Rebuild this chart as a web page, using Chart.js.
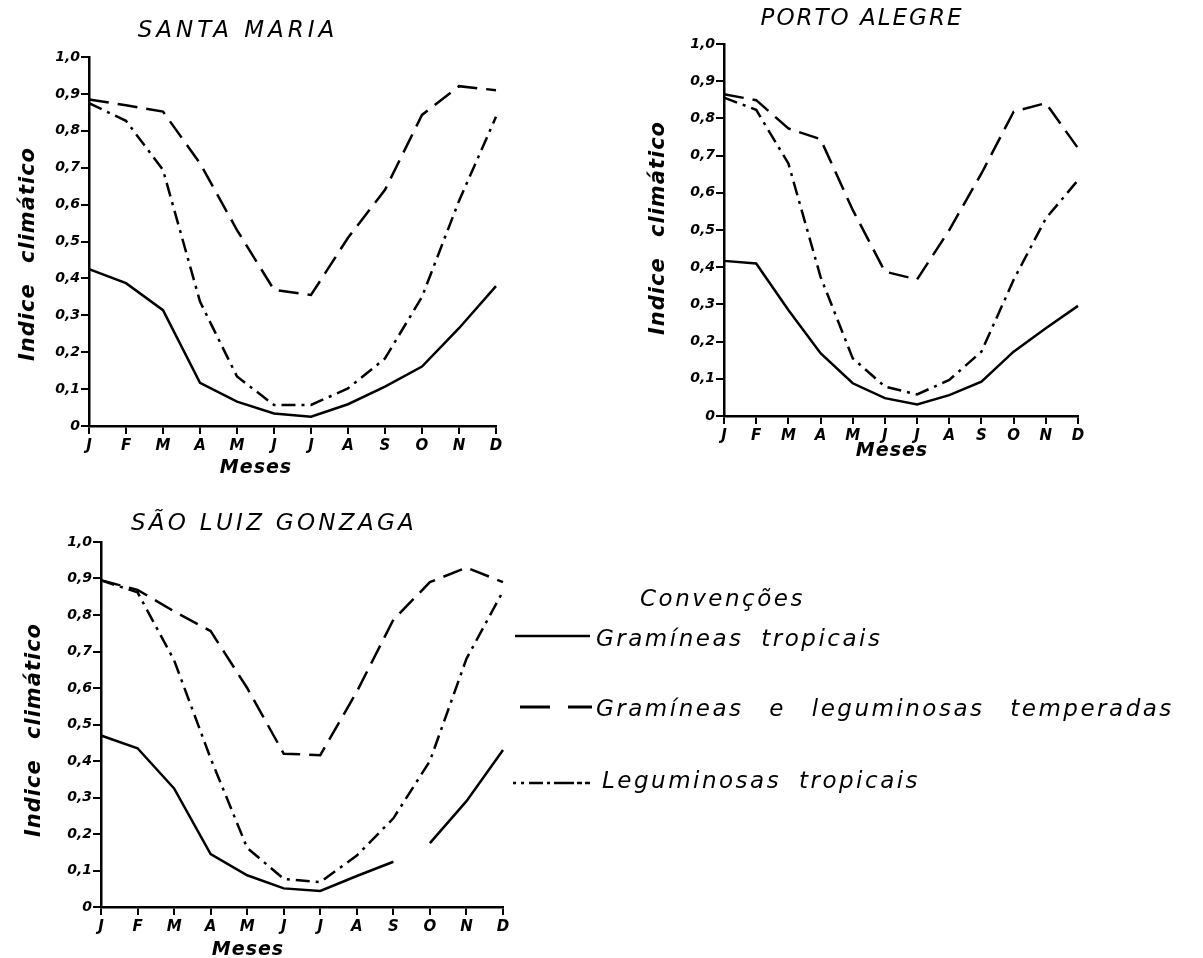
<!DOCTYPE html>
<html>
<head>
<meta charset="utf-8">
<script src="https://cdn.jsdelivr.net/npm/chart.js@4.4.1/dist/chart.umd.min.js"></script>
<style>
  body { margin: 0; background: #fff; }
  #page { position: relative; width: 1203px; height: 958px; overflow: hidden; background: #fff; }
  canvas { position: absolute; }
  .txt { position: absolute; font-family: "DejaVu Sans", sans-serif; font-style: oblique; color: #000; white-space: pre; transform: translate(-50%, -50%); }
  .title { font-size: 23px; letter-spacing: 2px; }
  .meses { font-size: 19px; font-weight: bold; letter-spacing: 1px; }
  .ylab { font-size: 21px; font-weight: bold; letter-spacing: 1px; word-spacing: 12px; transform: translate(-50%, -50%) rotate(-90deg); }
  .leg { position: absolute; font-family: "DejaVu Sans", sans-serif; font-style: oblique; font-size: 23px; letter-spacing: 2.5px; word-spacing: 8px; white-space: pre; transform: translateY(-50%); }
  svg { position: absolute; left: 0; top: 0; }
</style>
</head>
<body>
<div id="page">
  <canvas id="santa_maria"></canvas>
  <canvas id="porto_alegre"></canvas>
  <canvas id="sao_luiz"></canvas>

  <div class="txt title" style="left:238px; top:29px; letter-spacing:4px;">SANTA MARIA</div>
  <div class="txt title" style="left:862px; top:17px;">PORTO ALEGRE</div>
  <div class="txt title" style="left:274px; top:522px; letter-spacing:3.3px;">SÃO LUIZ GONZAGA</div>

  <div class="txt ylab" style="left:27px; top:254px;">Indice climático</div>
  <div class="txt ylab" style="left:657px; top:228px;">Indice climático</div>
  <div class="txt ylab" style="left:33px; top:730px;">Indice climático</div>

  <div class="txt meses" style="left:256px; top:466px;">Meses</div>
  <div class="txt meses" style="left:892px; top:449px;">Meses</div>
  <div class="txt meses" style="left:248px; top:948px;">Meses</div>

  <svg width="1203" height="958">
    <line x1="515" y1="636" x2="590" y2="636" stroke="#000" stroke-width="2.5"/>
    <line x1="520" y1="707" x2="592" y2="707" stroke="#000" stroke-width="3" stroke-dasharray="30 18"/>
    <line x1="513" y1="783" x2="600" y2="783" stroke="#000" stroke-width="2.5" stroke-dasharray="3 5 3 5 14 4 3 4 20"/>
  </svg>
  <div class="leg" style="left:640px; top:598px;">Convenções</div>
  <div class="leg" style="left:596px; top:638px;">Gramíneas tropicais</div>
  <div class="leg" style="left:596px; top:708px; word-spacing:16px;">Gramíneas e leguminosas temperadas</div>
  <div class="leg" style="left:602px; top:780px;">Leguminosas tropicais</div>
</div>

<script>
const meses = ["J", "F", "M", "A", "M", "J", "J", "A", "S", "O", "N", "D"];
const yTicks = [0, 0.1, 0.2, 0.3, 0.4, 0.5, 0.6, 0.7, 0.8, 0.9, 1.0];

// Santa Maria
const smTropicais   = [0.425, 0.387, 0.314, 0.117, 0.066, 0.034, 0.025, 0.059, 0.107, 0.161, 0.265, 0.379];
const smTemperadas  = [0.885, 0.869, 0.852, 0.712, 0.531, 0.369, 0.355, 0.51, 0.64, 0.843, 0.921, 0.91];
const smLeguminosas = [0.875, 0.827, 0.694, 0.337, 0.134, 0.057, 0.057, 0.102, 0.183, 0.35, 0.61, 0.838];

// Porto Alegre
const paTropicais   = [0.417, 0.41, 0.285, 0.169, 0.088, 0.048, 0.031, 0.056, 0.092, 0.173, 0.236, 0.296];
const paTemperadas  = [0.865, 0.849, 0.773, 0.744, 0.554, 0.388, 0.367, 0.5, 0.652, 0.818, 0.841, 0.72];
const paLeguminosas = [0.856, 0.823, 0.679, 0.374, 0.155, 0.079, 0.058, 0.097, 0.173, 0.366, 0.531, 0.634];

// São Luiz Gonzaga
const slTropicais   = [0.47, 0.435, 0.325, 0.145, 0.087, 0.051, 0.044, 0.085, 0.124, 0.175, 0.29, 0.43];
const slTemperadas  = [0.895, 0.869, 0.81, 0.756, 0.6, 0.42, 0.416, 0.59, 0.787, 0.89, 0.93, 0.89];
const slLeguminosas = [0.895, 0.862, 0.676, 0.407, 0.162, 0.077, 0.068, 0.141, 0.243, 0.4, 0.68, 0.865];

const FONT = "DejaVu Sans";
const PAD_L = 70, PAD_T = 20, PAD_R = 30, PAD_B = 42;

// wider lettering on the tick labels, like the hand lettering of the original
const spacedText = {
  id: "spacedText",
  beforeInit: (chart) => { chart.ctx.letterSpacing = "1.5px"; },
};

const lineStyle = (data, dash) => ({
  data: data,
  borderColor: "#000",
  borderWidth: 2.5,
  borderDash: dash,
  pointRadius: 0,
  tension: 0,
  fill: false,
});

const makeChart = (id, area, datasets) => {
  const cv = document.getElementById(id);
  const w = area.right - area.left + PAD_L + PAD_R;
  const h = area.bottom - area.top + PAD_T + PAD_B;
  cv.width = w;
  cv.height = h;
  cv.style.left = (area.left - PAD_L) + "px";
  cv.style.top = (area.top - PAD_T) + "px";
  cv.style.width = w + "px";
  cv.style.height = h + "px";

  return new Chart(cv, {
    type: "line",
    data: { labels: meses, datasets: datasets },
    plugins: [spacedText],
    options: {
      responsive: false,
      animation: false,
      layout: { padding: { top: PAD_T, right: PAD_R, left: 0, bottom: 0 } },
      plugins: { legend: { display: false }, tooltip: { enabled: false } },
      scales: {
        x: {
          offset: false,
          border: { display: true, color: "#000", width: 2.5 },
          grid: { drawOnChartArea: false, drawTicks: true, tickLength: 8, color: "#000", lineWidth: 2 },
          ticks: {
            color: "#000", padding: 3, maxRotation: 0, autoSkip: false,
            font: { family: FONT, size: 15, style: "italic", weight: "bold" },
          },
          afterFit: (s) => { s.height = PAD_B; },
        },
        y: {
          min: 0,
          max: 1,
          afterBuildTicks: (s) => { s.ticks = yTicks.map((v) => ({ value: v })); },
          border: { display: true, color: "#000", width: 2.5 },
          grid: { drawOnChartArea: false, drawTicks: true, tickLength: 8, color: "#000", lineWidth: 2 },
          ticks: {
            color: "#000", padding: 1,
            font: { family: FONT, size: 14, style: "italic", weight: "bold" },
            callback: (v) => (v === 0 ? "0" : v.toFixed(1).replace(".", ",")),
          },
          afterFit: (s) => { s.width = PAD_L; },
        },
      },
    },
  });
};

const DASH = [20, 9];
const DASHDOT = [14, 6, 3, 6];

makeChart("santa_maria", { left: 89, right: 496, top: 57, bottom: 426 }, [
  lineStyle(smTropicais, []),
  lineStyle(smTemperadas, DASH),
  lineStyle(smLeguminosas, DASHDOT),
]);

makeChart("porto_alegre", { left: 724, right: 1078, top: 44, bottom: 416 }, [
  lineStyle(paTropicais, []),
  lineStyle(paTemperadas, DASH),
  lineStyle(paLeguminosas, DASHDOT),
]);

// the solid line has a break between S and O in the original
const slSolid = lineStyle(slTropicais, []);
slSolid.segment = { borderColor: (ctx) => (ctx.p0DataIndex === 8 ? "rgba(0,0,0,0)" : "#000") };

makeChart("sao_luiz", { left: 101, right: 503, top: 542, bottom: 907 }, [
  slSolid,
  lineStyle(slTemperadas, DASH),
  lineStyle(slLeguminosas, DASHDOT),
]);
</script>
</body>
</html>
